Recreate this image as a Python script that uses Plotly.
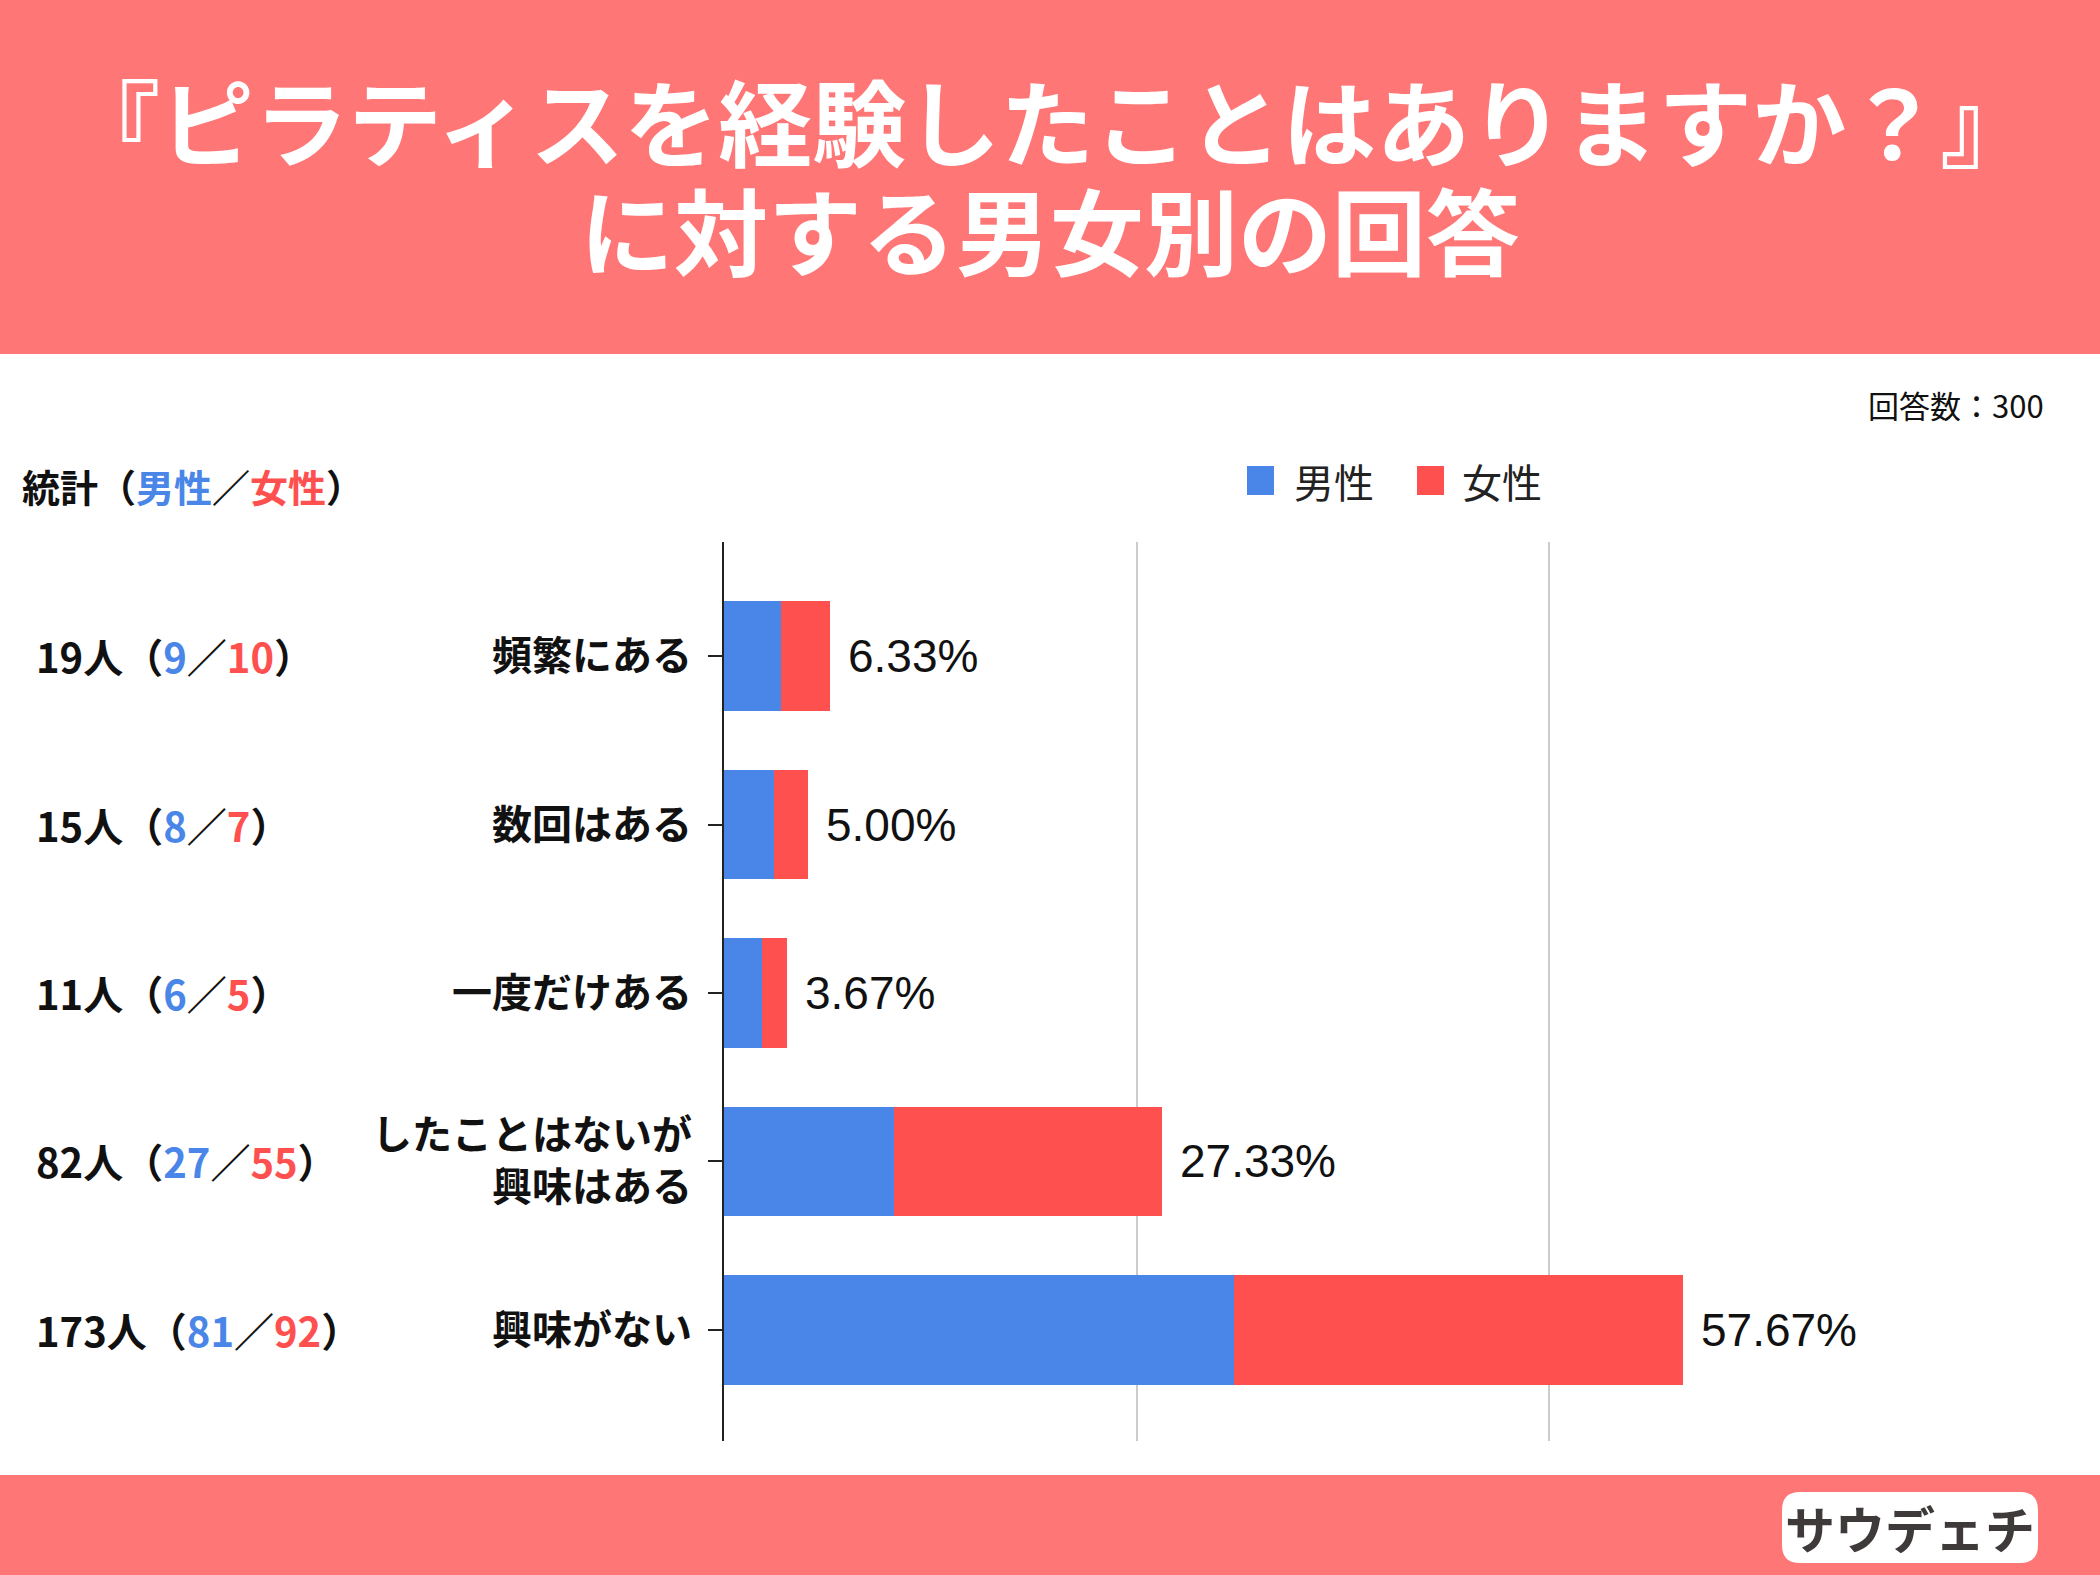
import plotly.graph_objects as go

# --- data ---
categories = ["頻繁にある", "数回はある", "一度だけある", "したことはないが<br>興味はある", "興味がない"]
male_pct = [6.9, 6.1, 4.6, 20.6, 61.8]      # share within men
female_pct = [5.9, 4.1, 3.0, 32.5, 54.4]    # share within women
overall_labels = ["6.33%", "5.00%", "3.67%", "27.33%", "57.67%"]
total_n = [19, 15, 11, 82, 173]
male_n = [9, 8, 6, 27, 81]
female_n = [10, 7, 5, 55, 92]
respondents = 300

W, H = 2100, 1575
BLUE = "#4A86E8"
RED = "#FF5050"
BAND = "#FF7676"
JP = "Noto Sans CJK JP"


def px_x(v):
    return v / W


def px_y(v):
    return 1 - v / H


fig = go.Figure()
fig.add_trace(go.Bar(
    y=categories, x=male_pct, orientation="h", name="男性",
    marker=dict(color=BLUE, line=dict(width=0)), width=0.65,
    hoverinfo="x+name",
))
fig.add_trace(go.Bar(
    y=categories, x=female_pct, orientation="h", name="女性",
    marker=dict(color=RED, line=dict(width=0)), width=0.65,
    hoverinfo="x+name",
))

annotations = []

# percentage labels at the end of each bar
for cat, m, f, lab in zip(categories, male_pct, female_pct, overall_labels):
    annotations.append(dict(
        x=m + f, y=cat, xref="x", yref="y", text=lab, showarrow=False,
        xanchor="left", yanchor="middle", xshift=16,
        font=dict(family="Arial, Liberation Sans", size=46, color="#111111"),
    ))

# left-hand counts
for cat, t, m, f in zip(categories, total_n, male_n, female_n):
    txt = (f"{t}人（<span style='color:{BLUE}'>{m}</span>／"
           f"<span style='color:{RED}'>{f}</span>）")
    annotations.append(dict(
        x=px_x(34), y=cat, xref="paper", yref="y", text=txt, showarrow=False,
        xanchor="left", yanchor="middle",
        font=dict(family=JP, size=40, color="#111111", weight="bold"),
    ))

# header title (two lines, tight spacing like the original)
annotations += [
    dict(x=0.5, y=px_y(119), xref="paper", yref="paper",
         text="『ピラティスを経験したことはありますか？』", showarrow=False,
         xanchor="center", yanchor="middle",
         font=dict(family=JP, size=94, color="white", weight="bold")),
    dict(x=0.5, y=px_y(228), xref="paper", yref="paper",
         text="に対する男女別の回答", showarrow=False,
         xanchor="center", yanchor="middle",
         font=dict(family=JP, size=94, color="white", weight="bold")),
    dict(x=px_x(2046), y=px_y(404), xref="paper", yref="paper",
         text=f"回答数：{respondents}", showarrow=False,
         xanchor="right", yanchor="middle",
         font=dict(family=JP, size=31, color="#111111")),
    dict(x=px_x(20), y=px_y(486), xref="paper", yref="paper",
         text=(f"統計（<span style='color:{BLUE}'>男性</span>／"
               f"<span style='color:{RED}'>女性</span>）"),
         showarrow=False, xanchor="left", yanchor="middle",
         font=dict(family=JP, size=38, color="#111111", weight="bold")),
    # legend text
    dict(x=px_x(1292), y=px_y(481), xref="paper", yref="paper", text="男性",
         showarrow=False, xanchor="left", yanchor="middle",
         font=dict(family=JP, size=40, color="#222222")),
    dict(x=px_x(1460), y=px_y(481), xref="paper", yref="paper", text="女性",
         showarrow=False, xanchor="left", yanchor="middle",
         font=dict(family=JP, size=40, color="#222222")),
    # logo stand-in
    dict(x=px_x(1910), y=px_y(1527), xref="paper", yref="paper", text="サウデェチ",
         showarrow=False, xanchor="center", yanchor="middle",
         font=dict(family=JP, size=50, color="#3E3A39", weight="bold")),
]

shapes = [
    # header and footer bands
    dict(type="rect", xref="paper", yref="paper", x0=0, x1=1, y0=px_y(354), y1=1,
         fillcolor=BAND, line=dict(width=0), layer="below"),
    dict(type="rect", xref="paper", yref="paper", x0=0, x1=1, y0=0, y1=px_y(1475),
         fillcolor=BAND, line=dict(width=0), layer="below"),
    # legend swatches
    dict(type="rect", xref="paper", yref="paper", x0=px_x(1247), x1=px_x(1274),
         y0=px_y(495), y1=px_y(466), fillcolor=BLUE, line=dict(width=0)),
    dict(type="rect", xref="paper", yref="paper", x0=px_x(1417), x1=px_x(1444),
         y0=px_y(495), y1=px_y(466), fillcolor=RED, line=dict(width=0)),
    # logo backing
    dict(type="path", xref="paper", yref="paper",
         path=(f"M {px_x(1800)},{px_y(1492)} L {px_x(2020)},{px_y(1492)} "
               f"Q {px_x(2038)},{px_y(1492)} {px_x(2038)},{px_y(1510)} "
               f"L {px_x(2038)},{px_y(1545)} Q {px_x(2038)},{px_y(1563)} {px_x(2020)},{px_y(1563)} "
               f"L {px_x(1800)},{px_y(1563)} Q {px_x(1782)},{px_y(1563)} {px_x(1782)},{px_y(1545)} "
               f"L {px_x(1782)},{px_y(1510)} Q {px_x(1782)},{px_y(1492)} {px_x(1800)},{px_y(1492)} Z"),
         fillcolor="white", line=dict(width=0)),
]

fig.update_layout(
    width=W, height=H, autosize=False,
    margin=dict(l=0, r=0, t=0, b=0),
    paper_bgcolor="white", plot_bgcolor="white",
    barmode="stack", bargap=0, showlegend=False,
    annotations=annotations, shapes=shapes,
    font=dict(family=JP, color="#111111"),
    xaxis=dict(
        domain=[px_x(724), px_x(1879)], range=[0, 140], dtick=50, tick0=0,
        showgrid=True, gridcolor="#CCCCCC", gridwidth=2,
        zeroline=False, showticklabels=False, showline=False, fixedrange=True,
    ),
    yaxis=dict(
        domain=[px_y(1441), px_y(542)], type="category",
        categoryorder="array", categoryarray=categories,
        range=[4.659, -0.677],
        showline=True, linecolor="#222222", linewidth=2,
        ticks="outside", ticklen=14, tickwidth=2, tickcolor="#222222",
        ticklabelstandoff=8,
        tickfont=dict(family=JP, size=40, color="#111111", weight="bold"),
        showgrid=False, zeroline=False, fixedrange=True,
    ),
)

fig.write_html(
    "out.html",
    config={"displayModeBar": False},
    post_script="document.body.style.margin='0';document.body.style.overflow='hidden';",
)
